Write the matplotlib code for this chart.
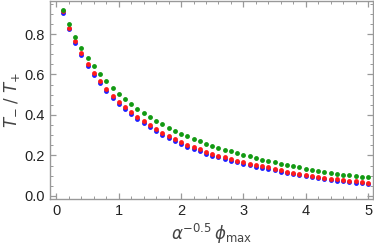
import numpy as np
import matplotlib
matplotlib.use('Agg')
import matplotlib.pyplot as plt
from matplotlib.ticker import MultipleLocator

# x = alpha^-0.5 * phi_max, 0.1 .. 5.0
x_vals = [round(0.1 * i, 1) for i in range(1, 51)]

green_vals = [0.918, 0.849, 0.785, 0.731, 0.683, 0.640, 0.601, 0.566, 0.535, 0.505,
              0.479, 0.454, 0.431, 0.411, 0.392, 0.372, 0.355, 0.338, 0.322, 0.307,
              0.295, 0.283, 0.271, 0.259, 0.248, 0.238, 0.228, 0.220, 0.211, 0.202,
              0.195, 0.188, 0.180, 0.174, 0.167, 0.160, 0.153, 0.147, 0.141, 0.134,
              0.128, 0.123, 0.119, 0.114, 0.109, 0.105, 0.102, 0.099, 0.095, 0.092]

red_vals = [0.912, 0.831, 0.765, 0.705, 0.654, 0.607, 0.566, 0.530, 0.495, 0.464,
            0.440, 0.415, 0.392, 0.370, 0.349, 0.329, 0.313, 0.296, 0.281, 0.266,
            0.253, 0.241, 0.230, 0.219, 0.209, 0.199, 0.191, 0.183, 0.175, 0.167,
            0.160, 0.153, 0.147, 0.141, 0.134, 0.126, 0.120, 0.115, 0.109, 0.104,
            0.099, 0.094, 0.090, 0.086, 0.082, 0.079, 0.076, 0.072, 0.069, 0.066]

blue_vals = [0.905, 0.825, 0.757, 0.696, 0.644, 0.597, 0.556, 0.520, 0.485, 0.453,
             0.428, 0.403, 0.382, 0.359, 0.339, 0.319, 0.302, 0.286, 0.271, 0.256,
             0.243, 0.231, 0.220, 0.209, 0.199, 0.190, 0.182, 0.174, 0.166, 0.158,
             0.151, 0.145, 0.139, 0.133, 0.126, 0.119, 0.113, 0.108, 0.102, 0.097,
             0.092, 0.087, 0.083, 0.079, 0.075, 0.072, 0.069, 0.065, 0.062, 0.059]

plt.rcParams['font.family'] = ['Liberation Sans', 'DejaVu Sans']
plt.rcParams['mathtext.fontset'] = 'dejavusans'

fig = plt.figure(figsize=(3.74, 2.47), dpi=100)
ax = fig.add_axes([50 / 374, 1 - 199 / 247, (372.7 - 50) / 374, 198 / 247])

for vals, c in [(blue_vals, '#1f1fff'), (red_vals, '#ff1a1a'), (green_vals, '#139a13')]:
    ax.plot(x_vals, vals, 'o', color=c, ms=3.5, mew=0, clip_on=False)

ax.set_xlim(-0.104, 5.075)
ax.set_ylim(-0.015, 0.963)
ax.xaxis.set_major_locator(MultipleLocator(1))
ax.xaxis.set_minor_locator(MultipleLocator(0.2))
ax.yaxis.set_major_locator(MultipleLocator(0.2))
ax.yaxis.set_minor_locator(MultipleLocator(0.05))
ax.yaxis.set_major_formatter(matplotlib.ticker.FormatStrFormatter('%.1f'))

fc = '#999999'
for s in ax.spines.values():
    s.set_color(fc); s.set_linewidth(1.0)
ax.tick_params(which='both', direction='in', top=True, right=True, color=fc,
               labelsize=10.5, labelcolor='#222222', pad=3.5)
ax.tick_params(which='major', length=4, width=0.9)
ax.tick_params(which='minor', length=2, width=0.7)

ax.set_xlabel(r'$\alpha^{-0.5}\,\phi_{\rm max}$', fontsize=12, color='#444444', labelpad=3)
ax.set_ylabel(r'$T_{-}\;/\;T_{+}$', fontsize=12, color='#444444', labelpad=2)

fig.savefig('out.png', dpi=100)
